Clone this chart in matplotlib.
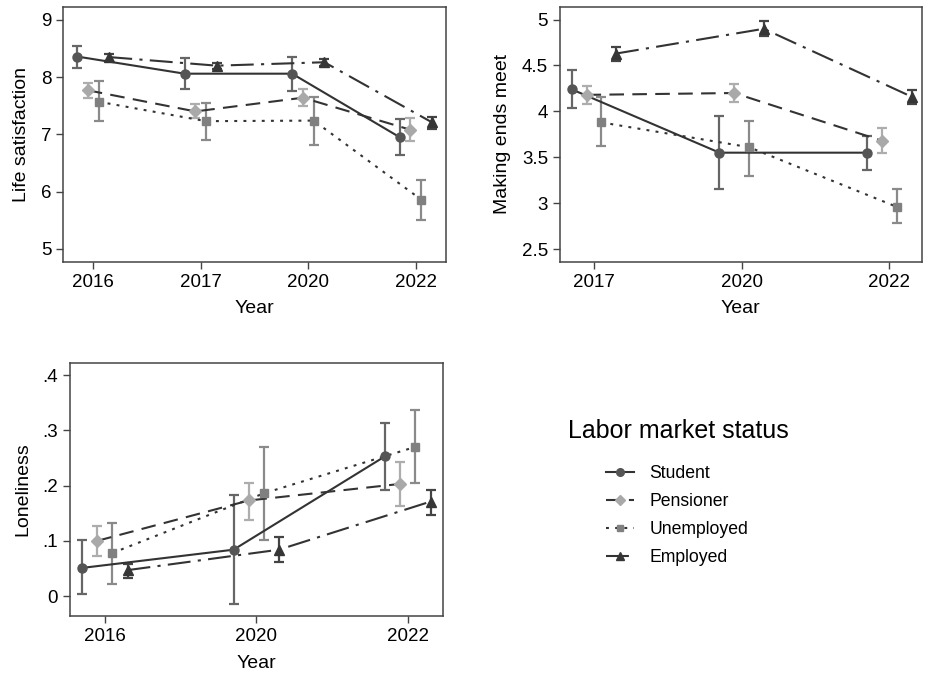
import numpy as np
import matplotlib.pyplot as plt
from matplotlib.lines import Line2D

plt.rcParams['font.family'] = ['Liberation Sans', 'DejaVu Sans']

groups = ['Student', 'Pensioner', 'Unemployed', 'Employed']

# life satisfaction: rows follow groups, columns follow years
life_years = ['2016', '2017', '2020', '2022']
life_mean = [[8.36, 8.06, 8.06, 6.95],
             [7.77, 7.40, 7.64, 7.08],
             [7.57, 7.23, 7.24, 5.86],
             [8.35, 8.20, 8.26, 7.21]]
life_lo = [[8.16, 7.79, 7.75, 6.63],
           [7.64, 7.28, 7.50, 6.88],
           [7.24, 6.90, 6.82, 5.51],
           [8.29, 8.14, 8.20, 7.10]]
life_hi = [[8.55, 8.33, 8.35, 7.27],
           [7.89, 7.53, 7.80, 7.28],
           [7.93, 7.55, 7.66, 6.20],
           [8.41, 8.25, 8.32, 7.31]]

# making ends meet
meet_years = ['2017', '2020', '2022']
meet_mean = [[4.24, 3.55, 3.55],
             [4.18, 4.20, 3.68],
             [3.88, 3.61, 2.96],
             [4.63, 4.90, 4.16]]
meet_lo = [[4.04, 3.15, 3.36],
           [4.08, 4.10, 3.55],
           [3.62, 3.30, 2.78],
           [4.55, 4.82, 4.08]]
meet_hi = [[4.45, 3.95, 3.73],
           [4.28, 4.30, 3.82],
           [4.16, 3.90, 3.15],
           [4.70, 4.98, 4.23]]

# loneliness
lone_years = ['2016', '2020', '2022']
lone_mean = [[0.051, 0.084, 0.253],
             [0.100, 0.173, 0.203],
             [0.078, 0.186, 0.270],
             [0.047, 0.084, 0.171]]
lone_lo = [[0.003, -0.015, 0.192],
           [0.073, 0.138, 0.163],
           [0.022, 0.101, 0.204],
           [0.032, 0.062, 0.147]]
lone_hi = [[0.101, 0.183, 0.314],
           [0.127, 0.205, 0.243],
           [0.133, 0.270, 0.337],
           [0.059, 0.107, 0.192]]

marker_colors = ['#555555', '#a9a9a9', '#808080', '#363636']
err_colors = ['#666666', '#adadad', '#8a8a8a', '#444444']
markers = ['o', 'D', 's', '^']
msizes = [6.5, 6, 6, 7]
styles = ['-', (0, (7, 4)), (0, (1.4, 3)), (0, (11, 3.5, 1.5, 3.5))]
offsets = [-0.15, -0.05, 0.05, 0.15]
line_color = '#333333'


def draw_panel(ax, years, mean, lo, hi, xlim, ylim, yticks, ylabels, ylabel):
    pos = np.arange(1, len(years) + 1)
    for g in range(len(groups)):
        x = pos + offsets[g]
        m = np.array(mean[g])
        err = [m - np.array(lo[g]), np.array(hi[g]) - m]
        ax.errorbar(x, m, yerr=err, fmt='none', ecolor=err_colors[g],
                    elinewidth=1.6, capsize=3.5, capthick=1.6, zorder=2)
        ax.plot(x, m, ls=styles[g], color=line_color, lw=1.5, zorder=3)
        ax.plot(x, m, ls='none', marker=markers[g], ms=msizes[g],
                color=marker_colors[g], zorder=4)
    ax.set_xticks(pos)
    ax.set_xticklabels(years)
    ax.set_xlim(*xlim)
    ax.set_ylim(*ylim)
    ax.set_yticks(yticks)
    ax.set_yticklabels(ylabels)
    ax.set_xlabel('Year', fontsize=14, labelpad=7)
    ax.set_ylabel(ylabel, fontsize=14, labelpad=8)
    ax.tick_params(labelsize=13.5, length=5, width=1, color='#444444')
    for s in ax.spines.values():
        s.set_color('#444444')
        s.set_linewidth(1.1)


fig = plt.figure(figsize=(9.27, 6.75), dpi=100)
ax1 = fig.add_axes([0.068, 0.612, 0.413, 0.378])
ax2 = fig.add_axes([0.604, 0.612, 0.3905, 0.378])
ax3 = fig.add_axes([0.0755, 0.0874, 0.402, 0.375])

draw_panel(ax1, life_years, life_mean, life_lo, life_hi, (0.72, 4.28),
           (4.77, 9.23), [5, 6, 7, 8, 9], ['5', '6', '7', '8', '9'],
           'Life satisfaction')
draw_panel(ax2, meet_years, meet_mean, meet_lo, meet_hi, (0.77, 3.22),
           (2.36, 5.14), [2.5, 3, 3.5, 4, 4.5, 5],
           ['2.5', '3', '3.5', '4', '4.5', '5'], 'Making ends meet')
draw_panel(ax3, lone_years, lone_mean, lone_lo, lone_hi, (0.77, 3.23),
           (-0.036, 0.422), [0, 0.1, 0.2, 0.3, 0.4],
           ['0', '.1', '.2', '.3', '.4'], 'Loneliness')

# legend
handles = [Line2D([], [], color=line_color, ls=styles[g], lw=1.5,
                  marker=markers[g], ms=msizes[g] - 1,
                  markerfacecolor=marker_colors[g],
                  markeredgecolor=marker_colors[g])
           for g in range(len(groups))]
fig.text(568 / 927, 1 - 431 / 675, 'Labor market status', fontsize=18,
         va='center', ha='left')
fig.legend(handles, groups, loc='upper left',
           bbox_to_anchor=(606 / 927, 1 - 465 / 675), frameon=False,
           fontsize=12.7, handlelength=1.6, handletextpad=0.85,
           labelspacing=0.62, borderpad=0, borderaxespad=0)

fig.savefig('out.png', dpi=100)
